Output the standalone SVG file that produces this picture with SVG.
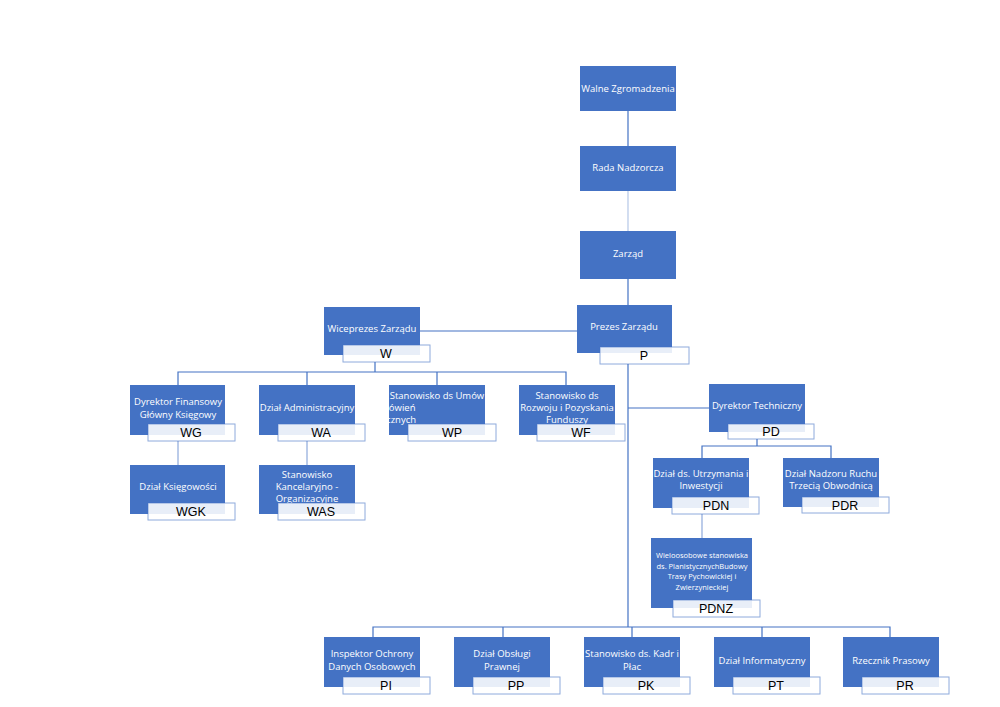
<svg xmlns="http://www.w3.org/2000/svg" width="1000" height="707" viewBox="0 0 1000 707">
<style>
.b{fill:#4472C4}
.t{fill:#fff;font-family:"Open Sans","Liberation Sans",sans-serif;font-size:9.5px;text-anchor:middle}
.s{font-size:7.5px}
.l{fill:#fff;fill-opacity:0.88;stroke:#4472C4;stroke-opacity:0.6;stroke-width:1}
.lt{fill:#000;font-family:"Liberation Sans",sans-serif;font-size:12.5px;text-anchor:middle}
.c{stroke:#4472C4;stroke-width:1.2;fill:none}
</style>
<rect width="1000" height="707" fill="#fff"/>
<g id="connectors">
<path class="c" d="M628 111V146"/>
<path class="c" d="M628 191V231" stroke-opacity="0.4"/>
<path class="c" d="M628 279V305" stroke-width="2"/>
<path class="c" d="M420 331H577"/>
<path class="c" d="M628 364V627" stroke-width="2"/>
<path class="c" d="M375 362V372M178 385V372H566V385M307 372V385M437 372V385"/>
<path class="c" d="M178 441V465M307 441V465" stroke-opacity="0.6"/>
<path class="c" d="M628 408H709"/>
<path class="c" d="M757 439V446M702 458V446H831V458"/>
<path class="c" d="M702 514V538" stroke-opacity="0.6"/>
<path class="c" d="M373 637V627H890V637M503 627V637M632 627V637M762 627V637"/>
</g>
<g id="walne"><rect class="b" x="580" y="66" width="96" height="45"/><text class="t" x="628" y="92">Walne Zgromadzenia</text></g>
<g id="rada"><rect class="b" x="580" y="146" width="96" height="45"/><text class="t" x="628" y="171">Rada Nadzorcza</text></g>
<g id="zarzad"><rect class="b" x="580" y="231" width="96" height="48"/><text class="t" x="628" y="257">Zarząd</text></g>
<g id="P"><rect class="b" x="577" y="305" width="95" height="48"/><text class="t" x="624" y="330">Prezes Zarządu</text><rect class="l" x="600" y="347" width="89" height="17"/><text class="lt" x="644" y="360">P</text></g>
<g id="W"><rect class="b" x="324" y="307" width="96" height="48"/><text class="t" x="372" y="332">Wiceprezes Zarządu</text><rect class="l" x="343" y="345" width="87" height="17"/><text class="lt" x="386" y="358">W</text></g>
<g id="WG"><rect class="b" x="130" y="385" width="95" height="50"/><text class="t" x="178" y="405">Dyrektor Finansowy</text><text class="t" x="178" y="418">Główny Księgowy</text><rect class="l" x="148" y="424" width="87" height="17"/><text class="lt" x="191" y="437">WG</text></g>
<g id="WA"><rect class="b" x="259" y="385" width="96" height="50"/><text class="t" x="307" y="411">Dział Administracyjny</text><rect class="l" x="278" y="424" width="87" height="17"/><text class="lt" x="321" y="437">WA</text></g>
<g id="WP"><rect class="b" x="389" y="385" width="96" height="50"/><text class="t" x="437" y="399">Stanowisko ds Umów</text><text class="t" x="390" y="411" text-anchor="start">i Zamówień</text><text class="t" x="390" y="423" text-anchor="start">Publicznych</text><rect class="l" x="408" y="424" width="88" height="17"/><text class="lt" x="452" y="437">WP</text></g>
<g id="WF"><rect class="b" x="519" y="385" width="96" height="50"/><text class="t" x="567" y="399">Stanowisko ds</text><text class="t" x="567" y="411">Rozwoju i Pozyskania</text><text class="t" x="567" y="423">Funduszy</text><rect class="l" x="537" y="424" width="88" height="17"/><text class="lt" x="581" y="437">WF</text></g>
<g id="WGK"><rect class="b" x="130" y="465" width="95" height="49"/><text class="t" x="178" y="490">Dział Księgowości</text><rect class="l" x="148" y="503" width="87" height="17"/><text class="lt" x="191" y="516">WGK</text></g>
<g id="WAS"><rect class="b" x="259" y="465" width="96" height="49"/><text class="t" x="307" y="478">Stanowisko</text><text class="t" x="307" y="490">Kancelaryjno -</text><text class="t" x="307" y="502">Organizacyjne</text><rect class="l" x="278" y="503" width="87" height="17"/><text class="lt" x="321" y="516">WAS</text></g>
<g id="PD"><rect class="b" x="709" y="384" width="96" height="48"/><text class="t" x="757" y="409">Dyrektor Techniczny</text><rect class="l" x="728" y="424" width="86" height="15"/><text class="lt" x="771" y="436">PD</text></g>
<g id="PDN"><rect class="b" x="653" y="458" width="96" height="50"/><text class="t" x="701" y="477">Dział ds. Utrzymania i</text><text class="t" x="701" y="489">Inwestycji</text><rect class="l" x="672" y="497" width="87" height="17"/><text class="lt" x="716" y="510">PDN</text></g>
<g id="PDR"><rect class="b" x="783" y="458" width="96" height="49"/><text class="t" x="831" y="477">Dział Nadzoru Ruchu</text><text class="t" x="831" y="489">Trzecią Obwodnicą</text><rect class="l" x="802" y="497" width="87" height="16"/><text class="lt" x="845" y="510">PDR</text></g>
<g id="PDNZ"><rect class="b" x="651" y="538" width="101" height="70"/><text class="t s" x="702" y="558">Wieloosobowe stanowiska</text><text class="t s" x="702" y="569">ds. PlanistycznychBudowy</text><text class="t s" x="702" y="579">Trasy Pychowickiej i</text><text class="t s" x="702" y="590">Zwierzynieckiej</text><rect class="l" x="673" y="600" width="87" height="17"/><text class="lt" x="716" y="613">PDNZ</text></g>
<g id="PI"><rect class="b" x="324" y="637" width="96" height="50"/><text class="t" x="372" y="657">Inspektor Ochrony</text><text class="t" x="372" y="670">Danych Osobowych</text><rect class="l" x="343" y="677" width="87" height="17"/><text class="lt" x="386" y="690">PI</text></g>
<g id="PP"><rect class="b" x="454" y="637" width="96" height="50"/><text class="t" x="502" y="657">Dział Obsługi</text><text class="t" x="502" y="670">Prawnej</text><rect class="l" x="473" y="677" width="87" height="17"/><text class="lt" x="516" y="690">PP</text></g>
<g id="PK"><rect class="b" x="584" y="637" width="96" height="50"/><text class="t" x="632" y="657">Stanowisko ds. Kadr i</text><text class="t" x="632" y="670">Płac</text><rect class="l" x="603" y="677" width="87" height="17"/><text class="lt" x="646" y="690">PK</text></g>
<g id="PT"><rect class="b" x="714" y="637" width="96" height="50"/><text class="t" x="762" y="664">Dział Informatyczny</text><rect class="l" x="733" y="677" width="87" height="17"/><text class="lt" x="776" y="690">PT</text></g>
<g id="PR"><rect class="b" x="843" y="637" width="96" height="50"/><text class="t" x="891" y="664">Rzecznik Prasowy</text><rect class="l" x="862" y="677" width="87" height="17"/><text class="lt" x="905" y="690">PR</text></g>
</svg>
